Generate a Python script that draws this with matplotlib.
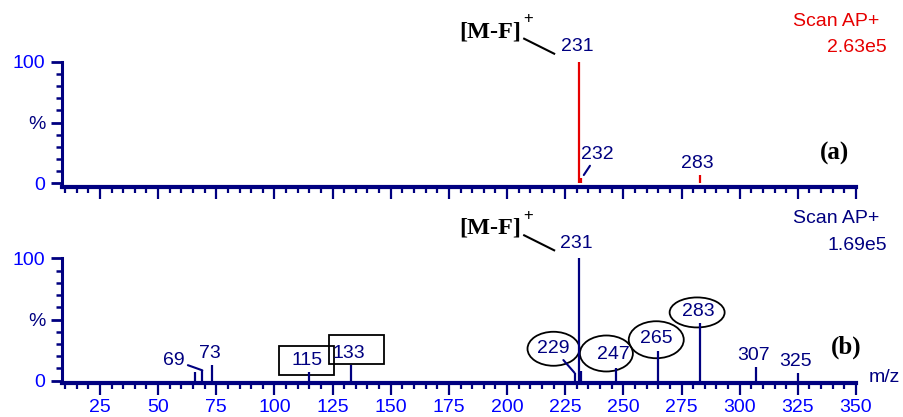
import numpy as np
import matplotlib.pyplot as plt
from matplotlib.patches import Ellipse, Rectangle
from matplotlib.ticker import FixedLocator, MultipleLocator

plt.rcParams['font.family'] = ['Liberation Sans', 'DejaVu Sans']

W, H = 904, 417
NAVY = '#000080'
BLUE = '#0000ff'
RED = '#e60000'

# spectrum (a)
mz_a = [231, 232, 283]
int_a = [100, 4, 6.5]
labeled_a = [231, 232, 283]

# spectrum (b)
mz_b = [66, 69, 73, 115, 133, 229, 231, 232, 247, 265, 283, 307, 325]
int_b = [7, 8.5, 12.8, 7, 12.8, 6.5, 100, 8, 10, 24.5, 46.8, 11, 6]
labeled_b = [69, 73, 115, 133, 229, 231, 247, 265, 283, 307, 325]
boxed_b = [115, 133]
circled_b = [229, 247, 265, 283]

xticks = list(range(25, 351, 25))

# label offsets from the peak top, in pixels
off_a = {231: (-2, 15), 232: (16, 24), 283: (-3, 12)}
off_b = {69: (-28, 10), 229: (-21, 24), 231: (-3, 15), 247: (-3, 14)}
lead_a = [232]
lead_b = [69, 229]
# annotation shapes: centre offset (px), width, height (px)
shape_b = {115: (-3, 12, 55, 29), 133: (5, 16, 55, 29),
           229: (-21, 24, 52, 34), 247: (-10, 15, 53, 36),
           265: (-2, 11, 55, 37), 283: (-3, 11, 55, 30)}

fig = plt.figure(figsize=(W / 100, H / 100), dpi=100)


def fx(x):
    return x / W


def fy(y):
    return 1 - y / H


def make_axes(top, bottom, ybot):
    ax = fig.add_axes([fx(62), fy(bottom), 794 / W, (bottom - top) / H])
    ax.set_xlim(8.7, 350)
    ax.set_ylim(ybot, 100)
    for s in ['top', 'right']:
        ax.spines[s].set_visible(False)
    ax.spines['left'].set_linewidth(2.2)
    ax.spines['bottom'].set_linewidth(3)
    ax.spines['left'].set_color(NAVY)
    ax.spines['bottom'].set_color(NAVY)
    ax.xaxis.set_major_locator(FixedLocator(xticks))
    ax.xaxis.set_minor_locator(MultipleLocator(5))
    ax.yaxis.set_major_locator(FixedLocator([0, 50, 100]))
    ax.yaxis.set_minor_locator(MultipleLocator(10))
    ax.set_yticklabels(['0', '%', '100'])
    ax.tick_params(axis='x', which='major', direction='out', length=8.5, width=1.6,
                   color=NAVY, labelsize=14, labelcolor=BLUE, pad=3)
    ax.tick_params(axis='x', which='minor', direction='out', length=4, width=1.6, color=NAVY)
    ax.tick_params(axis='y', which='major', direction='out', length=8, width=2,
                   color=NAVY, labelsize=14, labelcolor=BLUE, pad=4)
    ax.tick_params(axis='y', which='minor', direction='out', length=4.5, width=1.8, color=NAVY)
    ax.get_yticklabels()[1].set_color(NAVY)
    ax.patch.set_visible(False)
    return ax


def to_data(ax, x, y, dx, dy):
    d = ax.transData.transform((x, y))
    return ax.transData.inverted().transform((d[0] + dx, d[1] + dy))


def px_scale(ax):
    (x0, y0), (x1, y1) = ax.transData.transform([(0, 0), (1, 1)])
    return x1 - x0, y1 - y0


def draw_panel(ax, mz, inten, labeled, offs, leads, color):
    ax.vlines(mz, 0, inten, color=color, lw=1.6)
    for m, h in zip(mz, inten):
        if m not in labeled:
            continue
        dx, dy = offs.get(m, (-2, 12))
        if m in leads:
            ax.annotate(str(m), xy=(m, h), xytext=(dx, dy), textcoords='offset pixels',
                        ha='center', va='center', fontsize=14, color=NAVY,
                        annotation_clip=False,
                        arrowprops=dict(arrowstyle='-', color=NAVY, lw=1.5,
                                        shrinkA=0, shrinkB=3 if m == 232 else 0))
        else:
            ax.annotate(str(m), xy=(m, h), xytext=(dx, dy), textcoords='offset pixels',
                        ha='center', va='center', fontsize=14, color=NAVY,
                        annotation_clip=False)
    # [M-F]+ tag on the base peak
    ax.annotate('[M-F]', xy=(231, 100), xytext=(-58, 30), textcoords='offset pixels',
                ha='right', va='center', fontsize=17.5, fontweight='bold',
                family='Liberation Serif', color='black', annotation_clip=False)
    ax.annotate('+', xy=(231, 100), xytext=(-51, 43), textcoords='offset pixels',
                ha='center', va='center', fontsize=12,
                family='Liberation Sans', color='black', annotation_clip=False)
    p0 = to_data(ax, 231, 100, -55, 23)
    p1 = to_data(ax, 231, 100, -25, 8)
    ax.plot([p0[0], p1[0]], [p0[1], p1[1]], color='black', lw=1.5, clip_on=False)


ax_a = make_axes(61.7, 187, -3)
ax_a.tick_params(axis='x', labelbottom=False)
draw_panel(ax_a, mz_a, int_a, labeled_a, off_a, lead_a, RED)

ax_b = make_axes(258.3, 383.3, -2.1)
draw_panel(ax_b, mz_b, int_b, labeled_b, off_b, lead_b, NAVY)

sx, sy = px_scale(ax_b)
for m, h in zip(mz_b, int_b):
    if m not in shape_b:
        continue
    dx, dy, w, hh = shape_b[m]
    cx, cy = m + dx / sx, h + dy / sy
    if m in boxed_b:
        p = Rectangle((cx - w / sx / 2, cy - hh / sy / 2), w / sx, hh / sy,
                      fill=False, ec='black', lw=1.3, clip_on=False)
    else:
        p = Ellipse((cx, cy), w / sx, hh / sy, fill=False, ec='black', lw=1.3, clip_on=False)
    ax_b.add_patch(p)

# header texts
fig.text(fx(793), fy(22), 'Scan AP+', color=RED, fontsize=14, ha='left', va='center')
fig.text(fx(887), fy(48), '2.63e5', color=RED, fontsize=14, ha='right', va='center')
fig.text(fx(793), fy(219), 'Scan AP+', color=NAVY, fontsize=14, ha='left', va='center')
fig.text(fx(887), fy(245), '1.69e5', color=NAVY, fontsize=14, ha='right', va='center')
fig.text(fx(835), fy(153), '(a)', fontsize=18, fontweight='bold', family='Liberation Serif',
         ha='center', va='center')
fig.text(fx(846), fy(347), '(b)', fontsize=18, fontweight='bold', family='Liberation Serif',
         ha='center', va='center')
fig.text(fx(869), fy(377), 'm/z', color=NAVY, fontsize=14, ha='left', va='center')

fig.savefig('out.png', dpi=100)
